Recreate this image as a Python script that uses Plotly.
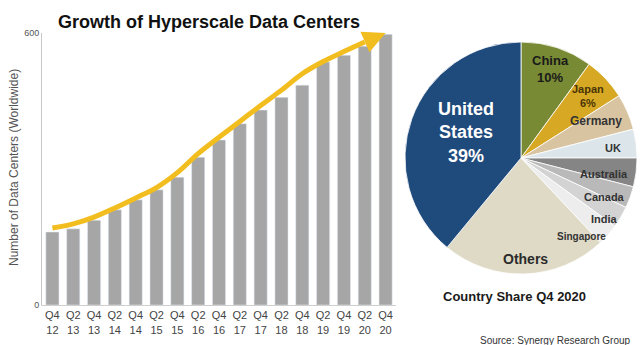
import plotly.graph_objects as go

# Hyperscale data center count, half-yearly
quarters = ["Q4<br>12", "Q2<br>13", "Q4<br>13", "Q2<br>14", "Q4<br>14", "Q2<br>15",
            "Q4<br>15", "Q2<br>16", "Q4<br>16", "Q2<br>17", "Q4<br>17", "Q2<br>18",
            "Q4<br>18", "Q2<br>19", "Q4<br>19", "Q2<br>20", "Q4<br>20"]
centers = [161, 168, 187, 210, 232, 254, 282, 326, 364, 400, 430, 458,
           485, 536, 551, 571, 597]
# Growth arrow drawn over the bars
trend = [170, 179, 194, 214, 236, 259, 292, 334, 370, 405, 440, 474,
         510, 537, 559, 580, 600]

# Country share of hyperscale capacity, Q4 2020 (percent), clockwise from 12 o'clock
countries = ["China", "Japan", "Germany", "UK", "Australia", "Canada", "India",
             "Singapore", "Others", "United States"]
shares = [10, 6, 5, 4, 4, 3, 3, 3, 23, 39]
slice_colors = ["#788a34", "#d6a823", "#d9c4a2", "#dce6ea", "#858585", "#b9b9b9",
                "#d3d3d3", "#ededed", "#dedac6", "#1f4a7c"]

W, H = 644, 345
ML, MR, MT, MB = 42, 0, 33, 40
PW, PH = W - ML - MR, H - MT - MB


def px(x):
    return (x - ML) / PW


def py(y):
    return (H - MB - y) / PH


FONT = "Liberation Sans, Arial, sans-serif"
YELLOW = "#f2bd1f"
idx = list(range(len(quarters)))

fig = go.Figure()

fig.add_trace(go.Bar(x=idx, y=centers, marker_color="#a6a6a6", width=0.63,
                     hoverinfo="skip", showlegend=False))

fig.add_trace(go.Scatter(x=idx[:-1], y=trend[:-1], mode="lines",
                         line=dict(color=YELLOW, width=5, shape="spline", smoothing=1.0),
                         hoverinfo="skip", showlegend=False))

fig.add_annotation(x=idx[-1], y=trend[-1], ax=idx[-2], ay=trend[-2],
                   xref="x", yref="y", axref="x", ayref="y",
                   showarrow=True, arrowhead=2, arrowsize=0.9, arrowwidth=5,
                   arrowcolor=YELLOW, text="")

fig.add_trace(go.Pie(labels=countries, values=shares, sort=False, direction="clockwise",
                     rotation=0, marker=dict(colors=slice_colors,
                                             line=dict(color="white", width=0.8)),
                     textinfo="none", hoverinfo="label+percent", showlegend=False,
                     domain=dict(x=[px(405), px(637)], y=[py(278), py(38)])))

fig.update_layout(
    width=W, height=H,
    margin=dict(l=ML, r=MR, t=MT, b=MB),
    paper_bgcolor="white", plot_bgcolor="white",
    bargap=0.37,
    font=dict(family=FONT, color="#444444"),
    xaxis=dict(domain=[0, px(396)], range=[-0.5, len(quarters) - 0.5],
               tickvals=idx, ticktext=quarters, tickfont=dict(size=11, color="#444444"),
               showline=True, linecolor="#cfcfcf", linewidth=1, ticks="",
               showgrid=False, zeroline=False, fixedrange=True),
    yaxis=dict(range=[0, 600], tickvals=[0, 600], tickfont=dict(size=9, color="#555555"),
               showline=True, linecolor="#c8c8c8", linewidth=1, ticks="",
               showgrid=False, zeroline=False, fixedrange=True),
)


def label(text, x, y, size, color="#2b2b2b", bold=True, xanchor="center", **kw):
    fig.add_annotation(text=f"<b>{text}</b>" if bold else text,
                       x=px(x), y=py(y), xref="paper", yref="paper",
                       xanchor=xanchor, yanchor="middle",
                       showarrow=False, font=dict(family=FONT, size=size, color=color), **kw)


label("Growth of Hyperscale Data Centers", 56, 22, 18, color="#111111", xanchor="left")
label("Number of Data Centers (Worldwide)", 14, 168, 12, color="#555555", bold=False,
      textangle=-90)

label("United<br>States<br>39%", 466, 132, 18, color="white")
label("China<br>10%", 550, 69, 13, color="#1a1a1a")
label("Japan<br>6%", 588, 96, 11, color="#4a3406")
label("Germany", 596, 121, 12, color="#333333")
label("UK", 613, 148, 11, color="#333333")
label("Australia", 604, 174, 11, color="#333333")
label("Canada", 604, 197, 11, color="#333333")
label("India", 604, 219, 11, color="#333333")
label("Singapore", 581, 236, 10, color="#333333")
label("Others", 525, 259, 14, color="#2b2b2b")
label("Country Share Q4 2020", 514, 296, 13, color="#1a1a1a")
label("Source: Synergy Research Group", 478, 340, 10, color="#333333", bold=False,
      xanchor="left")

fig.write_html("out.html")
